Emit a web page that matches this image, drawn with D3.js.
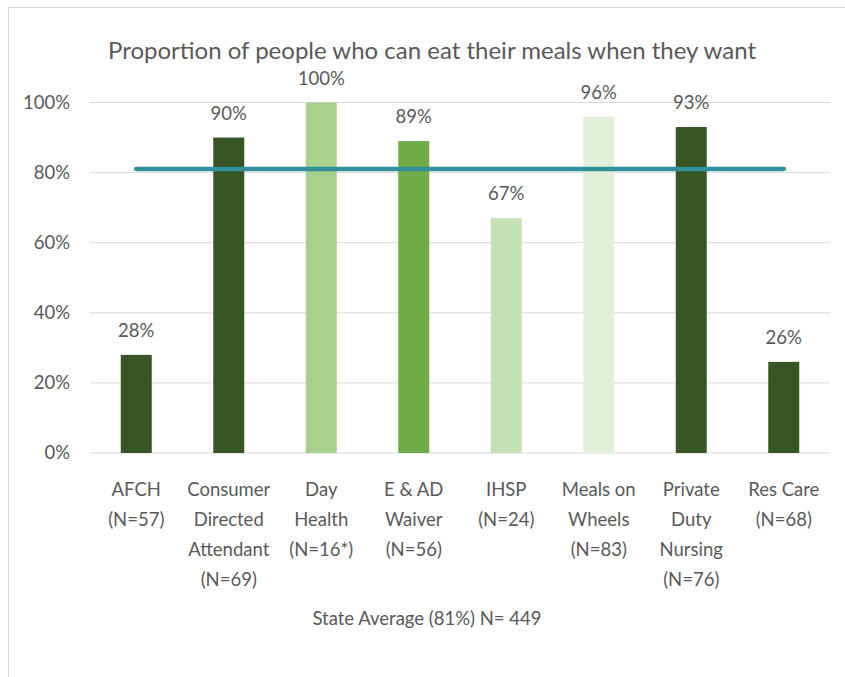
<!DOCTYPE html>
<html>
<head>
<meta charset="utf-8">
<script src="https://cdn.jsdelivr.net/npm/d3@7"></script>
<style>
  html, body { margin: 0; padding: 0; background: #fff; }
  svg { display: block; font-family: Lato, "Liberation Sans", sans-serif; }
</style>
</head>
<body>
<svg id="chart" width="845" height="677"></svg>
<script>
// Programs and the share of people who can eat meals when they want
const programs = [
  ["AFCH", "(N=57)"],
  ["Consumer", "Directed", "Attendant", "(N=69)"],
  ["Day", "Health", "(N=16*)"],
  ["E & AD", "Waiver", "(N=56)"],
  ["IHSP", "(N=24)"],
  ["Meals on", "Wheels", "(N=83)"],
  ["Private", "Duty", "Nursing", "(N=76)"],
  ["Res Care", "(N=68)"]
];
const shares = [28, 90, 100, 89, 67, 96, 93, 26];
const barColors = ["#375623", "#375623", "#a9d18e", "#70ad47", "#c5e0b4", "#e2f0d9", "#375623", "#375623"];
const stateAverage = 81;
const yTicks = [0, 20, 40, 60, 80, 100];
const titleText = "Proportion of people who can eat their meals when they want";
const footText = "State Average (81%) N= 449";

const svg = d3.select("#chart");
const plotLeft = 90, plotRight = 830, plotTop = 102.5, plotBottom = 453;
const textColor = "#595959";
const labelSize = "18.5px";

// chart frame
svg.append("path")
  .attr("d", "M8.5,677 V7.5 H845")
  .attr("fill", "none")
  .attr("stroke", "#d9d9d9")
  .attr("stroke-width", 1);

const x = d3.scaleBand()
  .domain(d3.range(programs.length))
  .range([plotLeft, plotRight])
  .paddingInner(0.665)
  .paddingOuter(0.3325);

const y = d3.scaleLinear().domain([0, 100]).range([plotBottom, plotTop]);

// gridlines
svg.append("g")
  .selectAll("line")
  .data(yTicks)
  .join("line")
  .attr("x1", plotLeft).attr("x2", plotRight)
  .attr("y1", d => y(d)).attr("y2", d => y(d))
  .attr("stroke", "#d9d9d9")
  .attr("stroke-width", 1);

// y axis labels
const yAxis = svg.append("g")
  .attr("transform", `translate(${plotLeft - 20},0)`)
  .call(d3.axisLeft(y).tickValues(yTicks).tickFormat(d => d + "%").tickSize(0).tickPadding(0));
yAxis.select(".domain").remove();
yAxis.selectAll("text")
  .attr("fill", textColor)
  .style("font-size", labelSize)
  .style("font-family", "Lato, sans-serif");

// bars
svg.append("g")
  .selectAll("rect")
  .data(shares)
  .join("rect")
  .attr("x", (d, i) => x(i))
  .attr("width", x.bandwidth())
  .attr("y", d => y(d))
  .attr("height", d => y(0) - y(d))
  .attr("fill", (d, i) => barColors[i]);

// value labels
svg.append("g")
  .selectAll("text")
  .data(shares)
  .join("text")
  .attr("x", (d, i) => x(i) + x.bandwidth() / 2)
  .attr("y", d => y(d) - 18)
  .attr("text-anchor", "middle")
  .attr("fill", textColor)
  .style("font-size", labelSize)
  .text(d => d + "%");

// state average line
const centers = programs.map((p, i) => x(i) + x.bandwidth() / 2);
svg.append("line")
  .attr("x1", centers[0]).attr("x2", centers[centers.length - 1])
  .attr("y1", y(stateAverage)).attr("y2", y(stateAverage))
  .attr("stroke", "#31909c")
  .attr("stroke-width", 4.5)
  .attr("stroke-linecap", "round");

// category labels
const cat = svg.append("g")
  .selectAll("text")
  .data(programs)
  .join("text")
  .attr("text-anchor", "middle")
  .attr("fill", textColor)
  .style("font-size", labelSize);
cat.each(function (lines, i) {
  d3.select(this).selectAll("tspan")
    .data(lines)
    .join("tspan")
    .attr("x", centers[i])
    .attr("y", (d, j) => 496 + j * 30)
    .text(d => d);
});

// title
svg.append("text")
  .attr("x", 432)
  .attr("y", 59)
  .attr("text-anchor", "middle")
  .attr("fill", textColor)
  .style("font-size", "24px")
  .text(titleText);

// axis caption
svg.append("text")
  .attr("x", 427)
  .attr("y", 625)
  .attr("text-anchor", "middle")
  .attr("fill", textColor)
  .style("font-size", labelSize)
  .text(footText);
</script>
</body>
</html>
